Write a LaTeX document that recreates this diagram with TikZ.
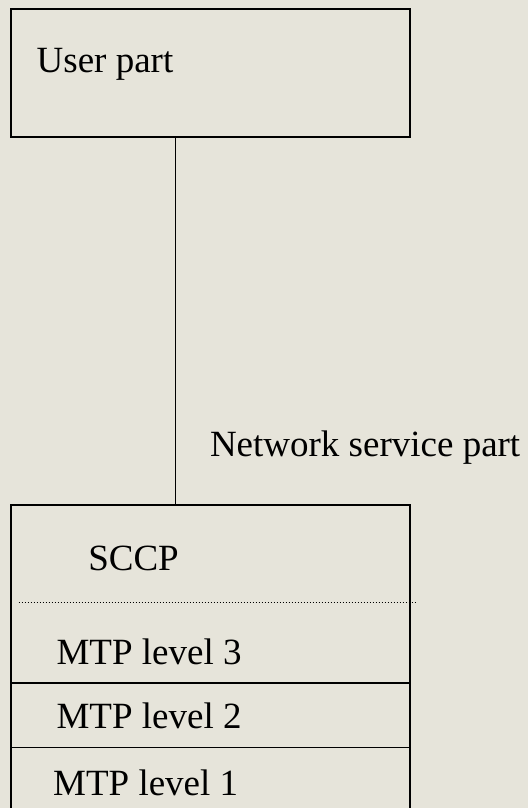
\documentclass[tikz,border=0pt]{standalone}
\usepackage{fontspec}
\setmainfont{Liberation Serif}
\definecolor{bg}{RGB}{230,228,218}
\begin{document}
\begin{tikzpicture}[x=1pt,y=-1pt,line width=1.5pt,
  lbl/.style={anchor=base west,inner sep=0pt,outer sep=0pt,font=\fontsize{37}{44}\selectfont},
  boxstyle/.style={draw,rectangle,inner sep=0pt,outer sep=0pt,anchor=north west,minimum width=399pt},
  sep/.style={line width=1pt,dash pattern=on 1pt off 2pt}]
\fill[bg] (0,0) rectangle (528,808);
\clip (0,0) rectangle (528,808);
\node[boxstyle,minimum height=128pt] (user) at (11,9) {};
\node[boxstyle,minimum height=320pt] (stack) at (11,505) {};
\coordinate (jt) at (175.5,0);
\draw (user.south -| jt) -- (stack.north -| jt);
\coordinate (dl) at (18.5,602);
\coordinate (dr) at (417,602);
\draw[sep] (dl) -- (dr);
\coordinate (l3) at (0,683);
\coordinate (l2) at (0,747.5);
\draw (stack.west |- l3) -- (stack.east |- l3);
\draw (stack.west |- l2) -- (stack.east |- l2);
\node[lbl] (tuser) at (36.7,72.7) {User part};
\node[lbl] (tnsp) at (210,456.7) {Network service part};
\node[lbl] (tsccp) at (88.3,570) {SCCP};
\node[lbl] (tm3) at (56.6,664.4) {MTP level 3};
\node[lbl] (tm2) at (56.6,728) {MTP level 2};
\node[lbl] (tm1) at (53.2,795.7) {MTP level 1};
\end{tikzpicture}
\end{document}
